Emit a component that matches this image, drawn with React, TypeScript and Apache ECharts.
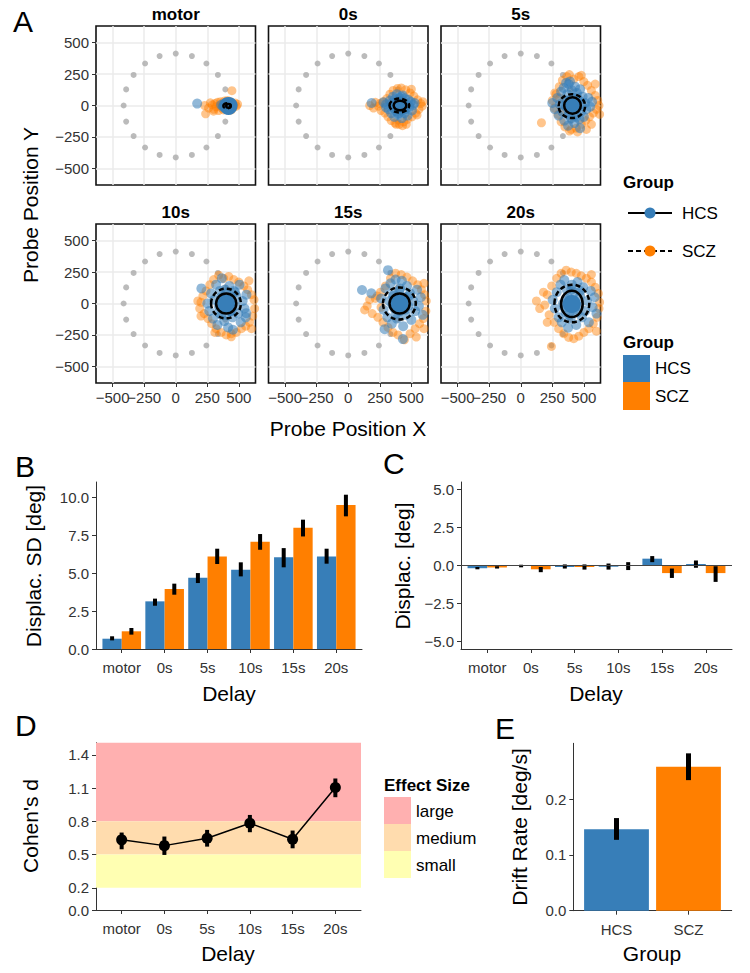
import React, { useEffect, useRef } from 'react';
import * as echarts from 'echarts';

const FONT = '"Liberation Sans", Arial, Helvetica, sans-serif';
const BLUE = '#377eb8';
const ORANGE = '#ff7f00';
const INK = '#333333';
const GRIDLINE = '#ebebeb';

// ---------- Panel A ----------
const delays = ['motor', '0s', '5s', '10s', '15s', '20s'];
const groups = ['HCS', 'SCZ'];
const probeTicks = [-500, -250, 0, 250, 500];
const probeTicksOdd = [-250, 250];
const probeTicksEven = [-500, 0, 500];
const probePositions = [
  [0, 413], [128, 393], [243, 334], [334, 243], [393, 128], [413, 0], [393, -128], [334, -243], [243, -334], [128, -393],
  [0, -413], [-128, -393], [-243, -334], [-334, -243], [-393, -128], [-413, 0], [-393, 128], [-334, 243], [-243, 334], [-128, 393],
];

const motorHCS = [[170, 15], [360, 5], [375, -10], [385, 15], [390, -5], [398, 8], [402, -15], [405, 20], [410, 0], [412, -8], [415, 10], [418, -3], [420, 5], [422, -12], [425, 15], [428, 0], [430, -6], [433, 8], [436, -15], [440, 3], [445, -2], [450, 10], [380, 0], [395, -20], [440, 20]];
const motorSCZ = [[445, 118], [229, 0], [237, -66], [274, 21], [260, -20], [290, 5], [300, -30], [310, 15], [320, -10], [330, 25], [340, -40], [350, 0], [355, 30], [365, -20], [370, 10], [380, -35], [385, 35], [395, -10], [400, 25], [405, -30], [410, 40], [420, -15], [430, 30], [440, -35], [450, 15], [460, -10], [470, 20], [480, -5], [490, 10], [300, -45]];
const s0HCS = [[185, 20], [280, 25], [300, -15], [300, 10], [320, -30], [330, 40], [340, -60], [345, 20], [355, 70], [360, -20], [365, -90], [370, 50], [375, 0], [380, -45], [385, 90], [390, 25], [395, -70], [400, -10], [405, 60], [410, 0], [415, -40], [420, 35], [425, -100], [430, 80], [435, -15], [440, 20], [445, -60], [450, 55], [455, -30], [460, 10], [470, -80], [475, 45], [485, -10], [495, 30], [505, -40], [515, 5], [525, 20], [380, 30], [440, -30], [420, 70], [400, -60]];
const s0SCZ = [[170, 0], [200, -20], [215, 25], [240, -5], [250, 15], [260, -40], [275, 30], [290, -60], [305, 55], [315, -90], [330, 90], [340, -120], [355, 120], [370, -140], [380, -150], [390, 135], [405, -150], [420, 140], [430, -160], [440, -130], [455, 125], [460, -150], [470, -110], [490, 100], [500, 130], [505, -90], [520, 75], [535, -60], [545, -75], [550, 45], [560, -30], [575, 15], [585, -5], [590, 30]];
const s5HCS = [[250, 20], [270, -30], [290, 60], [300, -80], [310, 10], [320, 110], [330, -50], [340, 140], [345, -120], [355, 40], [360, -10], [360, 180], [370, 90], [375, -160], [380, 170], [385, -60], [390, 20], [390, 190], [400, -100], [405, 120], [410, 0], [415, -30], [420, 60], [425, -140], [430, 150], [440, -70], [445, 100], [450, -20], [460, 40], [465, -110], [470, 130], [470, -180], [480, -50], [490, 70], [500, -90], [510, 20], [520, -30], [535, 60], [550, -10], [565, 30], [370, 40], [450, 60], [380, -70], [440, -90], [345, 0], [480, 10]];
const s5SCZ = [[164, -137], [387, -203], [250, 40], [265, -20], [270, 100], [280, 90], [295, -70], [305, 150], [310, 60], [320, -130], [330, 200], [330, -40], [350, -170], [365, 230], [385, 246], [400, -190], [420, 210], [440, -180], [450, -210], [460, 230], [480, -150], [480, 240], [500, 190], [515, -120], [520, -190], [530, 160], [545, -90], [560, 120], [560, -150], [575, -60], [590, 80], [590, 170], [600, -30], [610, 40], [620, 0], [625, -70]];
const s10HCS = [[203, 120], [250, 0], [265, -60], [280, 80], [295, -120], [305, 30], [320, 150], [330, -170], [340, -20], [350, 100], [360, -90], [365, 200], [375, 40], [385, -140], [395, -30], [400, 80], [410, 0], [415, -190], [425, 140], [430, -60], [440, 30], [450, -110], [453, -209], [460, 100], [470, -20], [480, 60], [495, -80], [505, 150], [515, -150], [530, 20], [545, -40], [559, -77], [560, 70], [555, -110], [360, 50], [440, -60], [400, -90], [390, 110], [470, 90], [340, -70]];
const s10SCZ = [[175, 20], [190, -40], [200, 10], [200, -100], [215, 60], [225, -80], [240, 100], [255, -120], [270, 150], [285, -160], [300, 190], [310, -230], [320, -200], [340, 225], [360, -230], [380, 200], [400, -250], [420, 215], [440, -265], [440, -240], [460, 190], [480, -230], [500, 170], [520, -200], [540, 140], [555, -180], [570, 110], [580, 180], [585, -150], [600, 70], [600, -200], [610, -100], [620, 30], [625, -40]];
const s15HCS = [[109, 107], [183, 81], [315, 265], [433, -283], [289, -204], [260, 40], [280, -50], [295, 120], [310, -110], [325, 20], [335, 160], [345, -160], [355, 60], [365, -40], [375, 190], [385, -120], [395, 10], [405, 100], [410, -60], [420, 0], [425, 180], [435, -180], [445, 50], [455, -90], [465, 140], [475, -20], [490, 80], [500, -130], [515, 20], [530, -60], [545, 110], [560, -20], [575, 50], [590, -90], [360, 70], [450, -50], [410, 120], [380, -80], [480, 60], [350, -10]];
const s15SCZ = [[130, -51], [539, -267], [150, -20], [170, 30], [190, -80], [215, 40], [230, 60], [235, -110], [255, 90], [260, -30], [275, -150], [295, 140], [315, -190], [335, 200], [355, -230], [375, 241], [395, -250], [420, 230], [445, -289], [465, 210], [490, -240], [510, 180], [530, -200], [550, 150], [565, -160], [580, 110], [595, -120], [600, 160], [600, -200], [605, 70], [615, -60], [618, 20]];
const s20HCS = [[253, 30], [270, -40], [285, 90], [300, -110], [315, 150], [325, -150], [335, 0], [345, 186], [355, -70], [365, 110], [375, -193], [385, 40], [395, -120], [405, 150], [410, 0], [420, -50], [430, 90], [440, -170], [450, 170], [460, -20], [470, 60], [485, -110], [495, 130], [510, -60], [525, 20], [540, -150], [555, 100], [570, -30], [585, 50], [600, -80], [360, 40], [450, -70], [400, 110], [380, -90], [470, 100], [345, -30]];
const s20SCZ = [[243, -341], [190, -12], [124, 20], [150, -40], [180, 90], [210, 70], [210, -150], [225, -90], [245, 140], [265, -150], [285, 200], [300, -200], [320, 240], [340, -240], [360, 265], [380, -270], [400, 250], [420, -280], [440, 240], [460, -260], [480, 220], [500, -230], [520, 200], [540, -200], [560, 170], [560, 230], [575, -160], [590, 130], [600, -220], [605, -110], [615, 80], [620, -40], [625, 10]];

const hcsMeans = [[418, -3], [410, 0], [410, 0], [400, 0], [407, 0], [405, -3]];
const sczMeans = [[405, -3], [405, 0], [405, -5], [398, 0], [405, 0], [405, 0]];
const hcsSpread = [[18, 14], [50, 38], [66, 66], [80, 80], [80, 80], [86, 105]];
const sczSpread = [[28, 20], [78, 55], [105, 95], [118, 118], [130, 128], [138, 150]];

// ---------- Panel B: displacement SD ----------
const sdTicks = [0, 2.5, 5, 7.5, 10];
const sdHCS = [0.68, 3.15, 4.71, 5.24, 6.06, 6.12];
const sdHCSLo = [0.57, 2.86, 4.36, 4.8, 5.4, 5.64];
const sdHCSHi = [0.84, 3.33, 5.02, 5.73, 6.67, 6.63];
const sdSCZ = [1.17, 3.96, 6.12, 7.09, 8.02, 9.52];
const sdSCZLo = [0.95, 3.59, 5.62, 6.56, 7.44, 8.77];
const sdSCZHi = [1.39, 4.32, 6.63, 7.6, 8.55, 10.2];

// ---------- Panel C: displacement ----------
const biasTicks = [-5, -2.5, 0, 2.5, 5];
const biasHCS = [-0.18, -0.03, -0.1, -0.08, 0.45, 0.1];
const biasHCSLo = [-0.25, -0.12, -0.2, -0.27, 0.22, -0.15];
const biasHCSHi = [-0.1, 0.05, 0.07, 0.13, 0.62, 0.33];
const biasSCZ = [-0.13, -0.25, -0.1, -0.03, -0.5, -0.5];
const biasSCZLo = [-0.2, -0.44, -0.27, -0.3, -0.82, -1.08];
const biasSCZHi = [-0.05, -0.1, 0.07, 0.22, -0.2, -0.05];

// ---------- Panel D: Cohen's d ----------
const dTicks = [0, 0.2, 0.5, 0.8, 1.1, 1.4];
const cohenD = [0.633, 0.581, 0.648, 0.783, 0.639, 1.105];
const cohenDLo = [0.548, 0.497, 0.572, 0.702, 0.557, 1.018];
const cohenDHi = [0.699, 0.663, 0.723, 0.858, 0.717, 1.187];
const effectSizes = ['large', 'medium', 'small'];
const effectLo = [0.8, 0.5, 0.2];
const effectHi = [1.51, 0.8, 0.5];
const effectColors = ['#ffb0b0', '#ffdcae', '#ffffb2'];

// ---------- Panel E: drift rate ----------
const driftTicks = [0, 0.1, 0.2];
const drift = [0.146, 0.258];
const driftLo = [0.127, 0.234];
const driftHi = [0.166, 0.282];

const minus = (s: string) => s.replace('-', '\u2212');

function text(x: number, y: number, t: string, size: number, o: any = {}) {
  return {
    type: 'text', x, y, rotation: o.rot || 0, silent: true, z: 100,
    style: {
      text: t, fontSize: size, fontFamily: FONT, fontWeight: o.bold ? 'bold' : 'normal',
      fill: o.color || '#000', align: o.align || 'left', verticalAlign: 'middle',
      textAlign: o.align || 'left', textVerticalAlign: 'middle',
    },
  };
}

function probeAxis(gi: number, show: boolean, labelValues: number[], extra = false) {
  return {
    gridIndex: gi, type: 'value', min: -632, max: 632, position: extra ? 'bottom' : undefined,
    axisLine: { show: false, onZero: false },
    axisTick: { show: show && !extra, customValues: probeTicks, length: 4, lineStyle: { color: INK, width: 1 } },
    axisLabel: { show, customValues: labelValues, formatter: (v: number) => minus(String(v)), color: INK, fontSize: 15, fontFamily: FONT, margin: 7, hideOverlap: false, showMinLabel: true, showMaxLabel: true },
    splitLine: { show: !extra, lineStyle: { color: GRIDLINE, width: 1.5 } },
  };
}

function catAxis(gi: number, names: string[], max: number) {
  const vals = names.map((_, k) => k);
  return {
    gridIndex: gi, type: 'value', min: -0.6, max,
    axisLine: { show: true, onZero: false, lineStyle: { color: INK, width: 1 } },
    axisTick: { show: true, customValues: vals, length: 4, lineStyle: { color: INK, width: 1 } },
    axisLabel: { show: true, customValues: vals, formatter: (v: number) => names[Math.round(v)], color: INK, fontSize: 15, fontFamily: FONT, margin: 11, hideOverlap: false, showMinLabel: true, showMaxLabel: true },
    splitLine: { show: false },
  };
}

function numAxis(gi: number, ticks: number[], min: number, max: number) {
  return {
    gridIndex: gi, type: 'value', min, max,
    axisLine: { show: true, onZero: false, lineStyle: { color: INK, width: 1 } },
    axisTick: { show: true, customValues: ticks, length: 4, lineStyle: { color: INK, width: 1 } },
    axisLabel: { show: true, customValues: ticks, formatter: (v: number) => minus(v.toFixed(1)), color: INK, fontSize: 15, fontFamily: FONT, margin: 7, hideOverlap: false, showMinLabel: true, showMaxLabel: true },
    splitLine: { show: false },
  };
}

function errorBars(gi: number, rows: number[][], offsets: number[], width: number) {
  return {
    type: 'custom', xAxisIndex: gi, yAxisIndex: gi, silent: true, z: 4,
    data: rows, encode: { x: 0, y: [1, 2] },
    renderItem: (params: any, api: any) => {
      const x = api.value(0) + offsets[api.value(3)];
      const p1 = api.coord([x, api.value(1)]);
      const p2 = api.coord([x, api.value(2)]);
      return { type: 'line', shape: { x1: p1[0], y1: p1[1], x2: p2[0], y2: p2[1] }, style: { stroke: '#000', lineWidth: width } };
    },
  };
}

function buildOption() {
  const grids: any[] = [];
  const xAxes: any[] = [];
  const yAxes: any[] = [];
  const series: any[] = [];
  const graphics: any[] = [];
  const extraX: any[] = [];

  const colX = [96, 268.5, 441];
  const rowY = [26, 224];
  const pw = 159.5, ph = 159;
  const respHCS = [motorHCS, s0HCS, s5HCS, s10HCS, s15HCS, s20HCS];
  const respSCZ = [motorSCZ, s0SCZ, s5SCZ, s10SCZ, s15SCZ, s20SCZ];

  delays.forEach((d, i) => {
    const col = i % 3, row = Math.floor(i / 3);
    grids.push({ left: colX[col], top: rowY[row], width: pw, height: ph, show: true, borderColor: '#111', borderWidth: 1.6, backgroundColor: '#fff', containLabel: false, outerBoundsMode: 'none' });
    // x labels split over two stacked axes so that touching labels (−500, −250) are both kept
    xAxes.push(probeAxis(i, row === 1, probeTicksEven));
    if (row === 1) extraX.push(probeAxis(i, true, probeTicksOdd, true));
    yAxes.push(probeAxis(i, col === 0, probeTicks));
    series.push({ type: 'scatter', xAxisIndex: i, yAxisIndex: i, silent: true, z: 2, symbolSize: 6, data: probePositions, itemStyle: { color: '#aaaaaa' } });
    series.push({ type: 'scatter', name: 'SCZ', xAxisIndex: i, yAxisIndex: i, silent: true, z: 2, symbolSize: 9, data: respSCZ[i], itemStyle: { color: ORANGE, opacity: 0.45 } });
    series.push({ type: 'scatter', name: 'HCS', xAxisIndex: i, yAxisIndex: i, silent: true, z: 2, symbolSize: 10, data: respHCS[i], itemStyle: { color: BLUE, opacity: 0.55 } });
    series.push({ type: 'scatter', xAxisIndex: i, yAxisIndex: i, silent: true, z: 3, symbolSize: 12, data: [sczMeans[i]], itemStyle: { color: ORANGE, opacity: 1 } });
    series.push({ type: 'scatter', xAxisIndex: i, yAxisIndex: i, silent: true, z: 3, symbolSize: 18, data: [hcsMeans[i]], itemStyle: { color: BLUE, opacity: 1 } });
    series.push({
      type: 'custom', xAxisIndex: i, yAxisIndex: i, silent: true, z: 5,
      data: [
        [hcsMeans[i][0], hcsMeans[i][1], hcsSpread[i][0], hcsSpread[i][1], 0],
        [sczMeans[i][0], sczMeans[i][1], sczSpread[i][0], sczSpread[i][1], 1],
      ],
      encode: { x: 0, y: 1 },
      renderItem: (params: any, api: any) => {
        const c = api.coord([api.value(0), api.value(1)]);
        const s = api.size([api.value(2), api.value(3)]);
        const dashed = api.value(4) === 1;
        return {
          type: 'ellipse', shape: { cx: c[0], cy: c[1], rx: s[0], ry: s[1] },
          style: { fill: 'none', stroke: '#000', lineWidth: 2.5, lineDash: dashed ? [5, 3] : null },
        };
      },
    });
    graphics.push(text(colX[col] + pw / 2, rowY[row] - 12, d, 17, { bold: true, align: 'center' }));
  });

  // B
  grids.push({ left: 96, top: 482, width: 266, height: 167, containLabel: false, outerBoundsMode: 'none' });
  xAxes.push(catAxis(6, delays, 5.6));
  yAxes.push(numAxis(6, sdTicks, 0, 11.04));
  series.push({ type: 'bar', name: 'HCS', xAxisIndex: 6, yAxisIndex: 6, silent: true, barWidth: '45%', barGap: '0%', data: delays.map((_, k) => [k, sdHCS[k]]), itemStyle: { color: BLUE } });
  series.push({ type: 'bar', name: 'SCZ', xAxisIndex: 6, yAxisIndex: 6, silent: true, barWidth: '45%', barGap: '0%', data: delays.map((_, k) => [k, sdSCZ[k]]), itemStyle: { color: ORANGE } });
  series.push(errorBars(6, [
    ...delays.map((_, k) => [k, sdHCSLo[k], sdHCSHi[k], 0]),
    ...delays.map((_, k) => [k, sdSCZLo[k], sdSCZHi[k], 1]),
  ], [-0.225, 0.225], 4));

  // C
  grids.push({ left: 461, top: 482, width: 271, height: 167, containLabel: false, outerBoundsMode: 'none' });
  xAxes.push(catAxis(7, delays, 5.6));
  yAxes.push(numAxis(7, biasTicks, -5.5, 5.5));
  series.push({
    type: 'bar', name: 'HCS', xAxisIndex: 7, yAxisIndex: 7, silent: true, barWidth: '45%', barGap: '0%', data: delays.map((_, k) => [k, biasHCS[k]]), itemStyle: { color: BLUE },
    markLine: { silent: true, symbol: ['none', 'none'], label: { show: false }, lineStyle: { color: '#444', width: 1, type: 'solid' }, data: [{ yAxis: 0 }] },
  });
  series.push({ type: 'bar', name: 'SCZ', xAxisIndex: 7, yAxisIndex: 7, silent: true, barWidth: '45%', barGap: '0%', data: delays.map((_, k) => [k, biasSCZ[k]]), itemStyle: { color: ORANGE } });
  series.push(errorBars(7, [
    ...delays.map((_, k) => [k, biasHCSLo[k], biasHCSHi[k], 0]),
    ...delays.map((_, k) => [k, biasSCZLo[k], biasSCZHi[k], 1]),
  ], [-0.225, 0.225], 4));

  // D
  grids.push({ left: 96, top: 742.7, width: 265, height: 167.3, containLabel: false, outerBoundsMode: 'none' });
  xAxes.push(catAxis(8, delays, 5.6));
  yAxes.push(numAxis(8, dTicks, 0, 1.51));
  series.push({
    type: 'line', xAxisIndex: 8, yAxisIndex: 8, silent: true, z: 5, symbol: 'circle', symbolSize: 11,
    data: delays.map((_, k) => [k, cohenD[k]]), lineStyle: { color: '#000', width: 1.5 }, itemStyle: { color: '#000' },
    markArea: {
      silent: true, label: { show: false },
      data: effectSizes.map((e, j) => [{ name: e, yAxis: effectLo[j], itemStyle: { color: effectColors[j], opacity: 1 } }, { yAxis: effectHi[j] }]),
    },
  });
  series.push(errorBars(8, delays.map((_, k) => [k, cohenDLo[k], cohenDHi[k], 0]), [0], 4));

  // E
  grids.push({ left: 573.3, top: 743.3, width: 158.4, height: 167.4, containLabel: false, outerBoundsMode: 'none' });
  xAxes.push(catAxis(9, groups, 1.6));
  yAxes.push(numAxis(9, driftTicks, 0, 0.3));
  series.push({
    type: 'bar', xAxisIndex: 9, yAxisIndex: 9, silent: true, barWidth: '90%',
    data: groups.map((g, k) => ({ value: [k, drift[k]], itemStyle: { color: k === 0 ? BLUE : ORANGE } })),
  });
  series.push(errorBars(9, groups.map((_, k) => [k, driftLo[k], driftHi[k], 0]), [0], 5));

  xAxes.push(...extraX);

  // Labels & titles
  graphics.push(text(13, 21, 'A', 30));
  graphics.push(text(15, 466, 'B', 30));
  graphics.push(text(383, 463, 'C', 30));
  graphics.push(text(15, 725, 'D', 30));
  graphics.push(text(495, 728, 'E', 30));

  graphics.push(text(30, 205, 'Probe Position Y', 21, { rot: Math.PI / 2, align: 'center' }));
  graphics.push(text(348, 428, 'Probe Position X', 21, { align: 'center' }));
  graphics.push(text(33, 566, 'Displac. SD [deg]', 21, { rot: Math.PI / 2, align: 'center' }));
  graphics.push(text(229, 693, 'Delay', 21, { align: 'center' }));
  graphics.push(text(402, 566, 'Displac. [deg]', 21, { rot: Math.PI / 2, align: 'center' }));
  graphics.push(text(596, 693, 'Delay', 21, { align: 'center' }));
  graphics.push(text(30, 826, "Cohen's d", 21, { rot: Math.PI / 2, align: 'center' }));
  graphics.push(text(228, 953, 'Delay', 21, { align: 'center' }));
  graphics.push(text(519, 827, 'Drift Rate [deg/s]', 21, { rot: Math.PI / 2, align: 'center' }));
  graphics.push(text(652, 953, 'Group', 21, { align: 'center' }));

  // Legend: Group (lines)
  graphics.push(text(623, 182, 'Group', 17, { bold: true }));
  graphics.push({ type: 'line', silent: true, z: 100, shape: { x1: 628, y1: 213, x2: 672, y2: 213 }, style: { stroke: '#000', lineWidth: 2 } });
  graphics.push({ type: 'circle', silent: true, z: 101, shape: { cx: 650, cy: 213, r: 5.5 }, style: { fill: BLUE } });
  graphics.push(text(682, 213, groups[0], 17));
  graphics.push({ type: 'line', silent: true, z: 100, shape: { x1: 628, y1: 251, x2: 672, y2: 251 }, style: { stroke: '#000', lineWidth: 2, lineDash: [5, 3] } });
  graphics.push({ type: 'circle', silent: true, z: 101, shape: { cx: 650, cy: 251, r: 5.5 }, style: { fill: ORANGE } });
  graphics.push(text(682, 251, groups[1], 17));

  // Legend: Group (fills)
  graphics.push(text(623, 342, 'Group', 17, { bold: true }));
  graphics.push({ type: 'rect', silent: true, z: 100, shape: { x: 623, y: 355, width: 27, height: 27 }, style: { fill: BLUE } });
  graphics.push({ type: 'rect', silent: true, z: 100, shape: { x: 623, y: 382, width: 27, height: 28 }, style: { fill: ORANGE } });
  graphics.push(text(655, 368, groups[0], 17));
  graphics.push(text(655, 396, groups[1], 17));

  // Legend: Effect size
  graphics.push(text(384, 785, 'Effect Size', 17, { bold: true }));
  effectSizes.forEach((e, j) => {
    graphics.push({ type: 'rect', silent: true, z: 100, shape: { x: 384, y: 797 + j * 27, width: 27, height: 27 }, style: { fill: effectColors[j] } });
    graphics.push(text(416, 811 + j * 27, e, 17));
  });

  return {
    animation: false,
    backgroundColor: '#ffffff',
    textStyle: { fontFamily: FONT },
    grid: grids,
    xAxis: xAxes,
    yAxis: yAxes,
    series,
    graphic: { elements: graphics },
  };
}

export default function App() {
  const ref = useRef<HTMLDivElement>(null);
  useEffect(() => {
    if (!ref.current) return;
    const chart = echarts.init(ref.current, null, { renderer: 'svg' });
    chart.setOption(buildOption() as any);
    return () => chart.dispose();
  }, []);
  return <div ref={ref} style={{ position: 'absolute', left: 0, top: 0, width: 750, height: 973 }} />;
}
